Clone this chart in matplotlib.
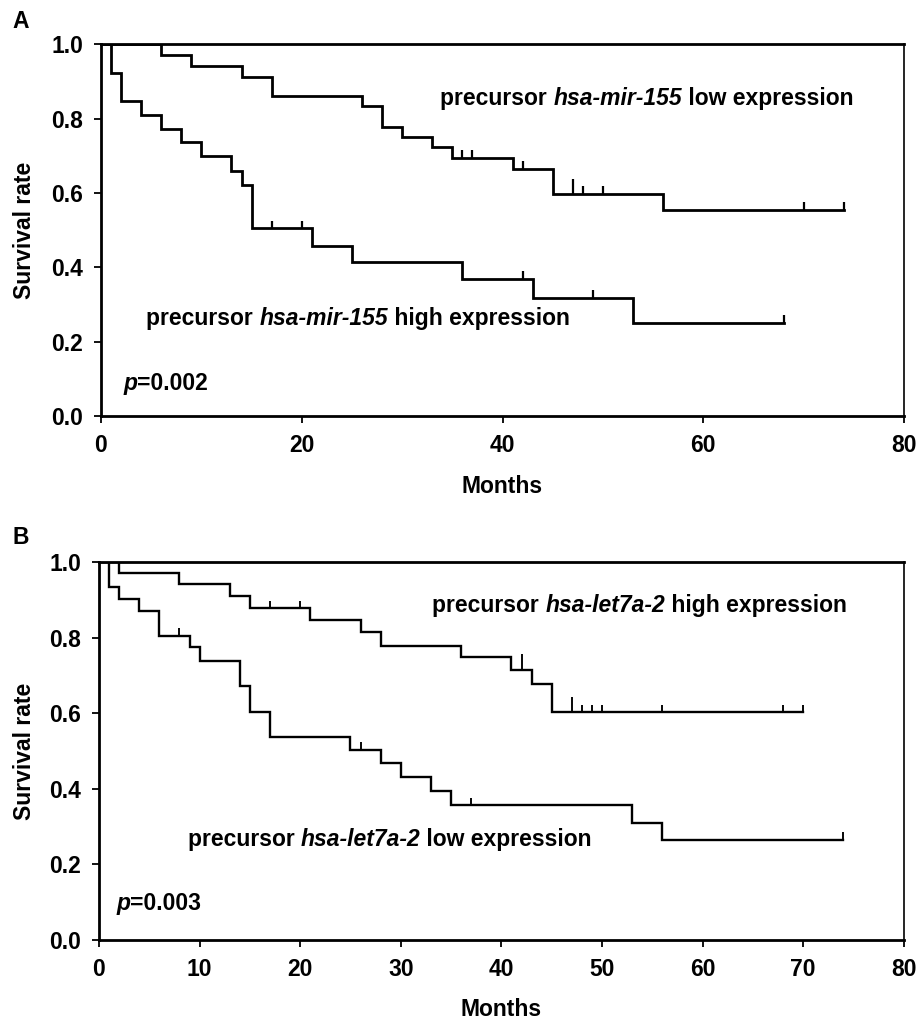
import numpy as np
import matplotlib
matplotlib.use("Agg")
import matplotlib.pyplot as plt

plt.rcParams['font.family'] = ['Liberation Sans', 'DejaVu Sans']
plt.rcParams['font.weight'] = 'bold'

# panel A: precursor hsa-mir-155
a_low_t = [0, 6, 9, 14, 17, 26, 28, 30, 33, 35, 41, 45, 56]
a_low_s = [1.0, 0.972, 0.942, 0.913, 0.861, 0.834, 0.779, 0.750, 0.723, 0.694, 0.664, 0.597, 0.555]
a_low_end = 74
a_low_cens = [36, 37, 42, 47, 47, 48, 50, 70, 74]

a_high_t = [0, 1, 2, 4, 6, 8, 10, 13, 14, 15, 21, 25, 36, 43, 53]
a_high_s = [1.0, 0.922, 0.848, 0.810, 0.773, 0.737, 0.700, 0.660, 0.622, 0.505, 0.458, 0.414, 0.368, 0.317, 0.251]
a_high_end = 68
a_high_cens = [17, 20, 42, 49, 68]

# panel B: precursor hsa-let7a-2
b_high_t = [0, 2, 8, 13, 15, 21, 26, 28, 36, 41, 43, 45]
b_high_s = [1.0, 0.970, 0.942, 0.910, 0.877, 0.847, 0.816, 0.779, 0.749, 0.714, 0.677, 0.602]
b_high_end = 70
b_high_cens = [17, 20, 42, 42, 47, 47, 48, 49, 50, 56, 68, 70]

b_low_t = [0, 1, 2, 4, 6, 9, 10, 14, 15, 17, 25, 28, 30, 33, 35, 53, 56]
b_low_s = [1.0, 0.935, 0.903, 0.871, 0.805, 0.774, 0.739, 0.673, 0.604, 0.538, 0.503, 0.467, 0.430, 0.395, 0.356, 0.309, 0.265]
b_low_end = 74
b_low_cens = [8, 26, 37, 74]

y_ticks = [0.0, 0.2, 0.4, 0.6, 0.8, 1.0]
FS = 16.5


def km(ax, t, s, end, cens, lw):
    t = list(t) + [end]
    s = list(s) + [s[-1]]
    ax.step(t, s, where='post', color='black', lw=lw, solid_joinstyle='miter')
    ct, cnt = np.unique(cens, return_counts=True)
    idx = np.searchsorted(t[:-1], ct, side='right') - 1
    lvl = np.array(s)[idx]
    ax.vlines(ct, lvl, lvl + 0.021 * cnt, color='black', lw=lw * 0.8)


def label(ax, x, y, parts):
    # parts: list of (text, italic)
    prev = None
    for txt, it in parts:
        style = 'italic' if it else 'normal'
        if prev is None:
            prev = ax.text(x, y, txt, fontsize=FS, fontweight='bold', style=style,
                           ha='left', va='center')
        else:
            prev = ax.annotate(txt, xy=(1, 0), xycoords=prev, fontsize=FS,
                               fontweight='bold', style=style, ha='left', va='bottom')


def setup(ax, xticks, xl_y, yl_x):
    ax.set_xlim(0, 80)
    ax.set_ylim(0, 1.0)
    ax.set_xticks(xticks)
    ax.set_yticks(y_ticks)
    ax.set_yticklabels([f'{v:.1f}' for v in y_ticks])
    ax.tick_params(direction='out', length=5, width=1.3, labelsize=FS, pad=8)
    for lab in ax.get_xticklabels() + ax.get_yticklabels():
        lab.set_fontweight('bold')
    for sp in ['left', 'bottom', 'top']:
        ax.spines[sp].set_linewidth(2.0)
    ax.spines['right'].set_linewidth(1.2)
    ax.set_xlabel('Months', fontsize=FS, fontweight='bold')
    ax.set_ylabel('Survival rate', fontsize=FS, fontweight='bold')
    ax.xaxis.set_label_coords(0.5, xl_y)
    ax.xaxis.label.set_va('center')
    ax.yaxis.set_label_coords(yl_x, 0.5)
    ax.yaxis.label.set_va('center')


fig = plt.figure(figsize=(9.19, 10.22), dpi=100)
axA = fig.add_axes([0.1099, 0.5930, 0.8738, 0.3635])
axB = fig.add_axes([0.1077, 0.0802, 0.8758, 0.3699])

km(axA, a_low_t, a_low_s, a_low_end, a_low_cens, 2.0)
km(axA, a_high_t, a_high_s, a_high_end, a_high_cens, 2.0)
setup(axA, [0, 20, 40, 60, 80], -0.191, -0.095)
label(axA, 33.8, 0.855, [('precursor ', False), ('hsa-mir-155', True), (' low expression', False)])
label(axA, 4.5, 0.263, [('precursor ', False), ('hsa-mir-155', True), (' high expression', False)])
label(axA, 2.2, 0.088, [('p', True), ('=0.002', False)])

km(axB, b_high_t, b_high_s, b_high_end, b_high_cens, 1.7)
km(axB, b_low_t, b_low_s, b_low_end, b_low_cens, 1.7)
setup(axB, list(range(0, 81, 10)), -0.183, -0.092)
label(axB, 33.1, 0.886, [('precursor ', False), ('hsa-let7a-2', True), (' high expression', False)])
label(axB, 8.8, 0.265, [('precursor ', False), ('hsa-let7a-2', True), (' low expression', False)])
label(axB, 1.7, 0.097, [('p', True), ('=0.003', False)])

fig.text(12 / 919, 1 - 21 / 1022, 'A', fontsize=FS, fontweight='bold', ha='left', va='center')
fig.text(12 / 919, 1 - 537 / 1022, 'B', fontsize=FS, fontweight='bold', ha='left', va='center')

fig.savefig('out.png', dpi=100, facecolor='white')
